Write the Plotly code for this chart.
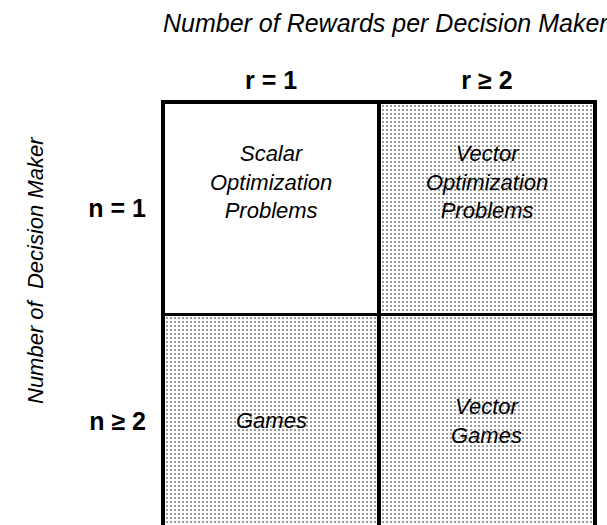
import plotly.graph_objects as go

# ---- data ----
col_labels = ["r = 1", "r ≥ 2"]
row_labels = ["n ≥ 2", "n = 1"]          # bottom row first (stacking order)
cell_text = {
    "n = 1": ["Scalar<br>Optimization<br>Problems", "Vector<br>Optimization<br>Problems"],
    "n ≥ 2": ["Games", "Vector<br>Games"],
}
shaded = {
    "n = 1": [False, True],
    "n ≥ 2": [True, True],
}
x_title = "Number of Rewards per Decision Maker"
y_title = "Number of  Decision Maker"

FONT = "Liberation Sans, Arial, Helvetica, sans-serif"
LINE_W = 3.5

fig = go.Figure()
for r in row_labels:
    fig.add_trace(go.Bar(
        x=col_labels,
        y=[1] * len(col_labels),
        name=r,
        marker=dict(
            color="white",
            line=dict(color="black", width=LINE_W),
            pattern=dict(
                shape=["." if s else "" for s in shaded[r]],
                fgcolor="#7a7a7a",
                bgcolor="white",
                size=4,
                solidity=0.2,
                fillmode="replace",
            ),
        ),
        hoverinfo="skip",
        showlegend=False,
    ))

# cell labels
row_shift = {"n = 1": 26, "n ≥ 2": 0}
for i, r in enumerate(row_labels):
    for c, t in zip(col_labels, cell_text[r]):
        fig.add_annotation(
            x=c, y=i + 0.5, text=t, showarrow=False,
            xref="x", yref="y", yshift=row_shift[r],
            font=dict(family=FONT, size=22, color="black", style="italic"),
        )

# y-axis title (rotated)
fig.add_annotation(
    text=y_title, textangle=-90, showarrow=False,
    xref="paper", yref="paper", x=0, y=0.6, xanchor="center", yanchor="middle",
    xshift=-126,
    font=dict(family=FONT, size=22, color="black", style="italic"),
)

fig.update_layout(
    width=607, height=525,
    margin=dict(l=161, r=10, t=100, b=0),
    paper_bgcolor="white", plot_bgcolor="white",
    barmode="stack", bargap=0,
    title=dict(
        text=x_title, xref="container", yref="container",
        x=163 / 607, xanchor="left", y=1 - 23 / 525, yanchor="middle",
        font=dict(family=FONT, size=25, color="black", style="italic"),
    ),
    xaxis=dict(
        side="top", type="category", categoryorder="array", categoryarray=col_labels,
        range=[-0.51, len(col_labels) - 0.49],
        showgrid=False, zeroline=False, showline=False, ticks="",
        tickfont=dict(family=FONT, size=25, color="black", weight="bold"),
        ticklabelstandoff=5,
        fixedrange=True,
    ),
    yaxis=dict(
        range=[0.01, len(row_labels) + 0.01],
        tickvals=[i + 0.5 for i in range(len(row_labels))],
        ticktext=row_labels,
        showgrid=False, zeroline=False, showline=False, ticks="",
        tickfont=dict(family=FONT, size=25, color="black", weight="bold"),
        ticklabelstandoff=14,
        fixedrange=True,
    ),
)

fig.write_html(
    "out.html",
    config={"displayModeBar": False, "staticPlot": True},
    post_script="document.body.style.margin='0';document.body.style.padding='0';",
)
